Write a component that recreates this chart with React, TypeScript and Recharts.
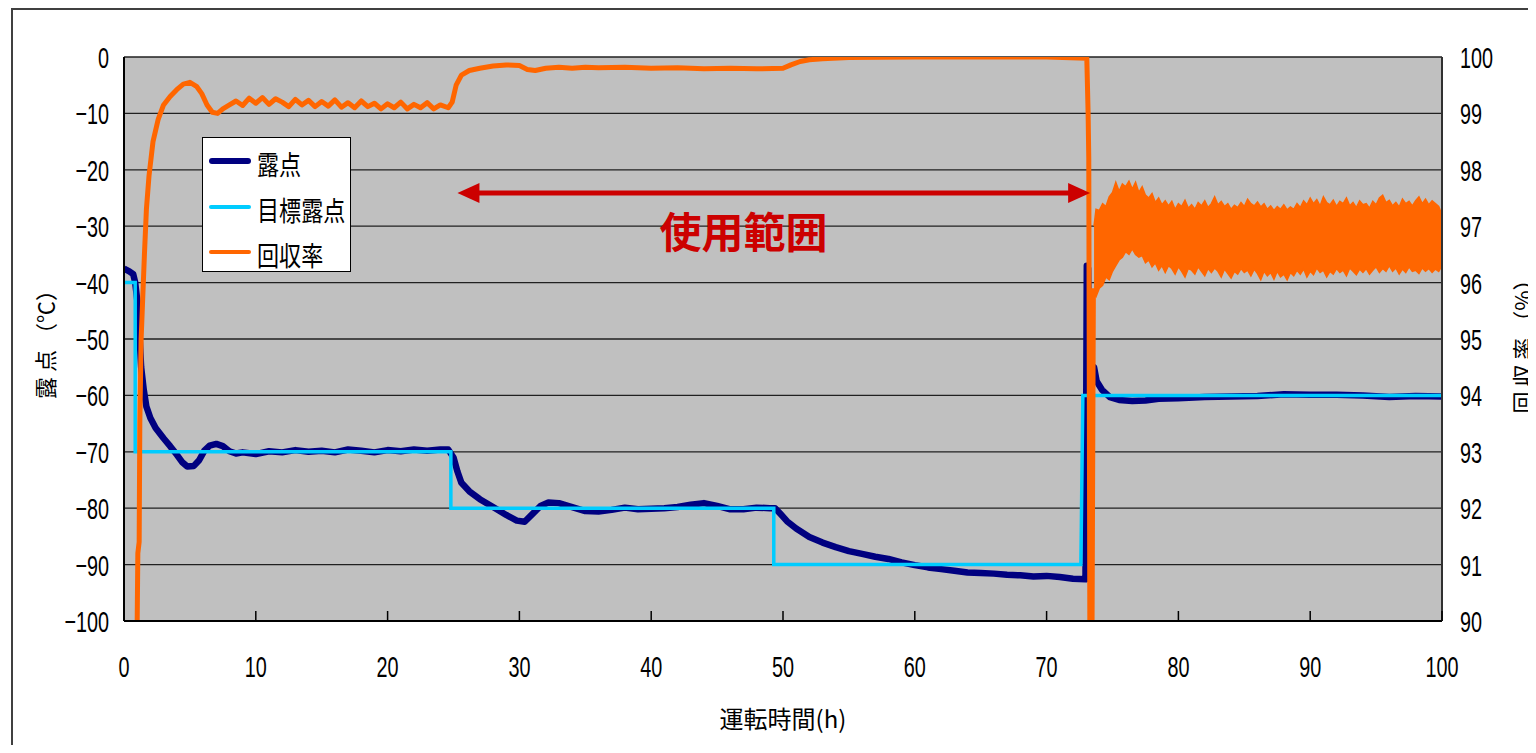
import React from 'react';
import {
  ComposedChart,
  Line,
  Area,
  XAxis,
  YAxis,
  CartesianGrid,
  Legend,
  ReferenceLine,
  ReferenceDot,
} from 'recharts';

// ---------- tick labels ----------
const xTicks = [0, 10, 20, 30, 40, 50, 60, 70, 80, 90, 100];
const dewTicks = [0, -10, -20, -30, -40, -50, -60, -70, -80, -90, -100];
const rateTicks = [90, 91, 92, 93, 94, 95, 96, 97, 98, 99, 100];

// ---------- series: [hours, value] ----------
const dewPoint: [number, number][] = [
  [0, -37.5], [0.4, -38], [0.7, -38.5], [0.85, -40], [1.0, -43], [1.15, -48], [1.3, -55],
  [1.5, -59], [1.7, -62], [2.0, -64], [2.4, -65.8], [3.0, -67.6], [3.5, -69], [4.0, -70.5],
  [4.4, -71.8], [4.8, -72.6], [5.3, -72.5], [5.7, -71.5], [6.1, -69.8], [6.5, -68.9],
  [7.0, -68.6], [7.5, -69], [8.0, -69.9], [8.5, -70.3], [9, -70.1], [10, -70.4], [11, -69.9],
  [12, -70.1], [13, -69.7], [14, -70], [15, -69.8], [16, -70.1], [17, -69.6], [18, -69.8],
  [19, -70.1], [20, -69.7], [21, -69.9], [22, -69.6], [23, -69.8], [24, -69.6], [24.6, -69.6],
  [25.0, -71], [25.3, -73.5], [25.6, -75.5], [26.2, -77], [27, -78.4], [28, -79.8], [29, -81.2],
  [29.8, -82.2], [30.4, -82.4], [31, -81], [31.6, -79.6], [32.2, -79], [33, -79.1], [34, -79.8],
  [35, -80.5], [36, -80.6], [37, -80.3], [38, -79.9], [39, -80.2], [40, -80.1], [41, -80],
  [42, -79.8], [43, -79.4], [44, -79.1], [45, -79.6], [46, -80.2], [47, -80.2], [48, -79.9],
  [49, -80], [49.4, -80], [49.8, -81], [50.3, -82.3], [51, -83.6], [52, -85.1], [53, -86.1],
  [54, -86.9], [55, -87.6], [56, -88.1], [57, -88.6], [58, -89], [59, -89.6], [60, -90.1],
  [61, -90.5], [62, -90.8], [63, -91.1], [64, -91.4], [65, -91.5], [66, -91.6], [67, -91.8],
  [68, -91.9], [69, -92.1], [70, -92], [71, -92.2], [72, -92.5], [72.95, -92.6], [73.05, -37],
  [73.15, -37.5], [73.2, -52], [73.25, -60], [73.4, -56], [73.6, -55], [73.8, -57.5],
  [74.2, -59], [74.8, -60.3], [75.5, -60.8], [76.5, -61], [77.5, -60.9], [78.5, -60.6],
  [80, -60.5], [82, -60.3], [84, -60.2], [86, -60.1], [88, -59.8], [90, -59.9], [92, -59.9],
  [94, -60], [96, -60.3], [98, -60.1], [100, -60.2],
];

const targetDew: [number, number][] = [
  [0, -40], [0.85, -40], [0.85, -70], [24.8, -70], [24.8, -80], [49.3, -80], [49.3, -90],
  [72.6, -90], [72.75, -60], [100, -60],
];

const recoveryRate: [number, number][] = [
  [1.0, 90], [1.05, 91.2], [1.15, 91.4], [1.2, 93.5], [1.3, 95], [1.4, 95.6], [1.55, 96.5],
  [1.7, 97.3], [1.9, 97.9], [2.2, 98.5], [2.6, 98.9], [3.0, 99.15], [3.5, 99.3], [4.0, 99.42],
  [4.5, 99.52], [5.0, 99.55], [5.5, 99.48], [5.9, 99.35], [6.3, 99.15], [6.7, 99.02],
  [7.1, 99.0], [7.5, 99.08], [8, 99.15], [8.5, 99.22], [9, 99.14], [9.5, 99.27], [10, 99.18],
  [10.5, 99.28], [11, 99.16], [11.5, 99.26], [12, 99.2], [12.5, 99.12], [13, 99.25],
  [13.5, 99.15], [14, 99.23], [14.5, 99.12], [15, 99.21], [15.5, 99.13], [16, 99.24],
  [16.5, 99.11], [17, 99.19], [17.5, 99.1], [18, 99.22], [18.5, 99.12], [19, 99.18],
  [19.5, 99.08], [20, 99.17], [20.5, 99.1], [21, 99.2], [21.5, 99.08], [22, 99.16],
  [22.5, 99.1], [23, 99.19], [23.5, 99.08], [24, 99.15], [24.6, 99.1], [24.9, 99.2],
  [25.2, 99.5], [25.6, 99.68], [26.2, 99.76], [27, 99.8], [28, 99.84], [29, 99.86], [30, 99.85],
  [30.6, 99.78], [31.2, 99.76], [32, 99.8], [33, 99.82], [34, 99.8], [35, 99.82], [36, 99.81],
  [38, 99.82], [40, 99.8], [42, 99.81], [44, 99.79], [46, 99.8], [48, 99.79], [50, 99.8],
  [50.6, 99.86], [51.3, 99.92], [52, 99.95], [53, 99.97], [55, 99.99], [60, 100], [65, 100],
  [70, 100], [73.05, 99.98], [73.15, 99.0], [73.2, 98.2], [73.28, 90], [73.45, 90],
  [73.55, 95.9],
];

// noisy recovery band after restart: [hours, lower edge %, upper edge %]
const recoveryBand: [number, number, number][] = [
  [73.6, 95.8, 97.0], [73.75, 95.75, 97.3], [74, 95.9, 97.28], [74.25, 95.95, 97.4],
  [74.5, 96.1, 97.35], [74.75, 96.05, 97.52], [75, 96.2, 97.6], [75.25, 96.3, 97.78],
  [75.5, 96.4, 97.62], [75.75, 96.45, 97.75], [76, 96.55, 97.7], [76.25, 96.5, 97.8],
  [76.5, 96.6, 97.66], [76.75, 96.5, 97.78], [77, 96.45, 97.6], [77.25, 96.48, 97.7],
  [77.5, 96.35, 97.55], [77.75, 96.4, 97.5], [78, 96.28, 97.58], [78.25, 96.35, 97.42],
  [78.5, 96.22, 97.5], [78.75, 96.3, 97.38], [79, 96.18, 97.45], [79.25, 96.3, 97.36],
  [79.5, 96.25, 97.44], [79.75, 96.15, 97.3], [80, 96.28, 97.4], [80.25, 96.2, 97.35],
  [80.5, 96.1, 97.46], [80.75, 96.25, 97.32], [81, 96.22, 97.38], [81.25, 96.15, 97.3],
  [81.5, 96.28, 97.42], [81.75, 96.2, 97.36], [82, 96.12, 97.45], [82.25, 96.25, 97.33],
  [82.5, 96.18, 97.4], [82.75, 96.26, 97.52], [83, 96.2, 97.38], [83.25, 96.1, 97.44],
  [83.5, 96.24, 97.35], [83.75, 96.16, 97.4], [84, 96.08, 97.3], [84.25, 96.2, 97.37],
  [84.5, 96.15, 97.33], [84.75, 96.25, 97.42], [85, 96.18, 97.35], [85.25, 96.22, 97.48],
  [85.5, 96.12, 97.4], [85.75, 96.24, 97.36], [86, 96.16, 97.43], [86.25, 96.05, 97.34],
  [86.5, 96.2, 97.4], [86.75, 96.12, 97.3], [87, 96.18, 97.36], [87.25, 96.06, 97.28],
  [87.5, 96.2, 97.35], [87.75, 96.1, 97.3], [88, 96.15, 97.38], [88.25, 96.05, 97.29],
  [88.5, 96.18, 97.34], [88.75, 96.12, 97.3], [89, 96.22, 97.4], [89.25, 96.15, 97.33],
  [89.5, 96.24, 97.45], [89.75, 96.1, 97.38], [90, 96.2, 97.5], [90.25, 96.14, 97.4],
  [90.5, 96.26, 97.47], [90.75, 96.18, 97.36], [91, 96.22, 97.52], [91.25, 96.1, 97.42],
  [91.5, 96.2, 97.38], [91.75, 96.15, 97.46], [92, 96.25, 97.35], [92.25, 96.18, 97.44],
  [92.5, 96.22, 97.4], [92.75, 96.12, 97.5], [93, 96.26, 97.36], [93.25, 96.2, 97.42],
  [93.5, 96.14, 97.33], [93.75, 96.24, 97.45], [94, 96.18, 97.38], [94.25, 96.25, 97.4],
  [94.5, 96.15, 97.32], [94.75, 96.22, 97.44], [95, 96.28, 97.38], [95.25, 96.18, 97.5],
  [95.5, 96.25, 97.55], [95.75, 96.2, 97.42], [96, 96.3, 97.46], [96.25, 96.2, 97.36],
  [96.5, 96.26, 97.42], [96.75, 96.15, 97.34], [97, 96.24, 97.48], [97.25, 96.18, 97.4],
  [97.5, 96.28, 97.44], [97.75, 96.2, 97.36], [98, 96.22, 97.45], [98.25, 96.16, 97.52],
  [98.5, 96.26, 97.4], [98.75, 96.2, 97.48], [99, 96.25, 97.38], [99.25, 96.18, 97.45],
  [99.5, 96.24, 97.4], [99.75, 96.2, 97.35], [100, 96.3, 97.2],
];

// annotation anchors (hours, °C)
const arrowStart = { x: 25.3, y: -24.1 };
const arrowEnd = { x: 73.3, y: -24.1 };
const rangeLabelPos = { x: 47.0, y: -31.2 };

// ---------- tables built for the library ----------
const dewData = dewPoint.map(([h, v]) => ({ h, v }));
const targetData = targetDew.map(([h, v]) => ({ h, v }));
const rateData = recoveryRate.map(([h, v]) => ({ h, v }));
const bandData = recoveryBand.map(([h, lo, hi]) => ({ h, range: [lo, hi] }));

const NAVY = '#000080';
const CYAN = '#00CCFF';
const ORANGE = '#FF6600';
const RED = '#CC0000';
const NUM_FONT = '"Liberation Sans", Arial, sans-serif';
const JP_FONT = '"Noto Sans CJK JP", "Noto Sans", sans-serif';

const fmt = (v: number) => (v < 0 ? '\u2212' + Math.abs(v) : String(v));

const BottomTick = (props: any) => {
  const { x, y, payload } = props;
  return (
    <g>
      <line x1={x} x2={x} y1={y} y2={y - 10} stroke="#000" strokeWidth={1.5} />
      <text
        transform={`translate(${x},${y + 56}) scale(0.66,1)`}
        textAnchor="middle"
        fontSize={30}
        fontFamily={NUM_FONT}
        fill="#000"
      >
        {fmt(payload.value)}
      </text>
    </g>
  );
};

const LeftTick = (props: any) => {
  const { x, y, payload } = props;
  return (
    <text
      transform={`translate(${x - 15},${y + 11}) scale(0.66,1)`}
      textAnchor="end"
      fontSize={30}
      fontFamily={NUM_FONT}
      fill="#000"
    >
      {fmt(payload.value)}
    </text>
  );
};

const RightTick = (props: any) => {
  const { x, y, payload } = props;
  return (
    <text
      transform={`translate(${x + 18},${y + 11}) scale(0.66,1)`}
      textAnchor="start"
      fontSize={30}
      fontFamily={NUM_FONT}
      fill="#000"
    >
      {fmt(payload.value)}
    </text>
  );
};

const ArrowShape = (p: any) => {
  const { x1, y1, x2, y2 } = p;
  const hl = 22;
  const hw = 10;
  return (
    <g>
      <line x1={x1 + hl - 2} y1={y1} x2={x2 - hl + 2} y2={y2} stroke={RED} strokeWidth={5} />
      <polygon points={`${x1},${y1} ${x1 + hl},${y1 - hw} ${x1 + hl},${y1 + hw}`} fill={RED} />
      <polygon points={`${x2},${y2} ${x2 - hl},${y2 - hw} ${x2 - hl},${y2 + hw}`} fill={RED} />
    </g>
  );
};

const RangeLabel = (p: any) => (
  <text
    x={p.cx}
    y={p.cy + 15}
    textAnchor="middle"
    fontSize={42}
    fontWeight="bold"
    fontFamily={JP_FONT}
    fill={RED}
  >
    使用範囲
  </text>
);

const legendItems = [
  { name: '露点', color: NAVY, w: 6 },
  { name: '目標露点', color: CYAN, w: 4 },
  { name: '回収率', color: ORANGE, w: 4 },
];

const LegendBox = () => (
  <div
    style={{
      width: 149,
      height: 135,
      boxSizing: 'border-box',
      border: '1px solid #000',
      background: '#fff',
      position: 'relative',
      fontFamily: JP_FONT,
    }}
  >
    {legendItems.map((it, i) => (
      <div key={it.name} style={{ position: 'absolute', left: 0, top: 23 + i * 45.5, width: '100%' }}>
        <div
          style={{
            position: 'absolute',
            left: 6,
            top: -it.w / 2,
            width: 42,
            height: it.w,
            borderRadius: it.w / 2,
            background: it.color,
          }}
        />
        <span
          style={{
            position: 'absolute',
            left: 54,
            top: -13,
            fontSize: 24,
            lineHeight: '30px',
            whiteSpace: 'nowrap',
            color: '#000',
            display: 'inline-block',
            transform: 'scale(0.92,1.15)',
            transformOrigin: 'left center',
          }}
        >
          {it.name}
        </span>
      </div>
    ))}
  </div>
);

export default function App() {
  return (
    <div
      style={{
        position: 'relative',
        marginLeft: 3,
        width: 1525,
        height: 737,
        boxSizing: 'border-box',
        borderTop: '2px solid #404040',
        borderLeft: '2px solid #404040',
        overflow: 'hidden',
        background: '#fff',
      }}
    >
      <div style={{ position: 'absolute', left: 0, top: 0 }}>
        <ComposedChart width={1523} height={735} margin={{ top: 47, right: 0, bottom: 0, left: 0 }}>
          <CartesianGrid
            yAxisId="left"
            vertical={false}
            fill="#C0C0C0"
            stroke="#202020"
            strokeWidth={1.3}
          />
          <XAxis
            type="number"
            dataKey="h"
            domain={[0, 100]}
            ticks={xTicks}
            interval={0}
            allowDataOverflow
            height={124}
            tickSize={0}
            tickMargin={0}
            tickLine={false}
            tick={<BottomTick />}
            axisLine={{ stroke: '#000', strokeWidth: 2 }}
            label={{
              value: '運転時間(h)',
              position: 'insideBottom',
              offset: 17,
              fontSize: 24,
              fill: '#000',
              fontFamily: JP_FONT,
            }}
          />
          <YAxis
            yAxisId="left"
            type="number"
            domain={[-100, 0]}
            ticks={dewTicks}
            interval={0}
            allowDataOverflow
            width={111}
            tickSize={0}
            tickMargin={0}
            tickLine={false}
            tick={<LeftTick />}
            axisLine={{ stroke: '#000', strokeWidth: 2 }}
          />
          <YAxis
            yAxisId="right"
            orientation="right"
            type="number"
            domain={[90, 100]}
            ticks={rateTicks}
            interval={0}
            allowDataOverflow
            width={94}
            tickSize={0}
            tickMargin={0}
            tickLine={false}
            tick={<RightTick />}
            axisLine={{ stroke: '#303030', strokeWidth: 2 }}
          />
          <Legend
            layout="vertical"
            align="center"
            verticalAlign="middle"
            content={() => <LegendBox />}
            wrapperStyle={{ left: 189, top: 127, width: 149, height: 135 }}
          />
          <Line
            data={dewData}
            dataKey="v"
            yAxisId="left"
            type="linear"
            stroke={NAVY}
            strokeWidth={6.5}
            strokeLinejoin="round"
            dot={false}
            activeDot={false}
            isAnimationActive={false}
          />
          <Line
            data={targetData}
            dataKey="v"
            yAxisId="left"
            type="linear"
            stroke={CYAN}
            strokeWidth={3.5}
            dot={false}
            activeDot={false}
            isAnimationActive={false}
          />
          <Line
            data={rateData}
            dataKey="v"
            yAxisId="right"
            type="linear"
            stroke={ORANGE}
            strokeWidth={5}
            strokeLinejoin="round"
            dot={false}
            activeDot={false}
            isAnimationActive={false}
          />
          <Area
            data={bandData}
            dataKey="range"
            yAxisId="right"
            type="linear"
            stroke={ORANGE}
            strokeWidth={1.5}
            fill={ORANGE}
            fillOpacity={1}
            dot={false}
            activeDot={false}
            isAnimationActive={false}
          />
          <ReferenceLine
            yAxisId="left"
            segment={[arrowStart, arrowEnd]}
            stroke={RED}
            shape={ArrowShape}
          />
          <ReferenceDot
            yAxisId="left"
            x={rangeLabelPos.x}
            y={rangeLabelPos.y}
            r={0}
            shape={RangeLabel}
          />
        </ComposedChart>
      </div>
      <div
        style={{
          position: 'absolute',
          left: 31,
          top: 329,
          transform: 'translate(-50%,-50%) rotate(-90deg)',
          whiteSpace: 'nowrap',
          fontFamily: JP_FONT,
          fontSize: 22,
          lineHeight: 1,
          color: '#000',
        }}
      >
        露 点 （℃）
      </div>
      <div
        style={{
          position: 'absolute',
          left: 1508,
          top: 331,
          transform: 'translate(-50%,-50%) rotate(-90deg)',
          whiteSpace: 'nowrap',
          fontFamily: JP_FONT,
          fontSize: 22,
          lineHeight: 1,
          color: '#000',
        }}
      >
        回 収 率 （%）
      </div>
    </div>
  );
}
